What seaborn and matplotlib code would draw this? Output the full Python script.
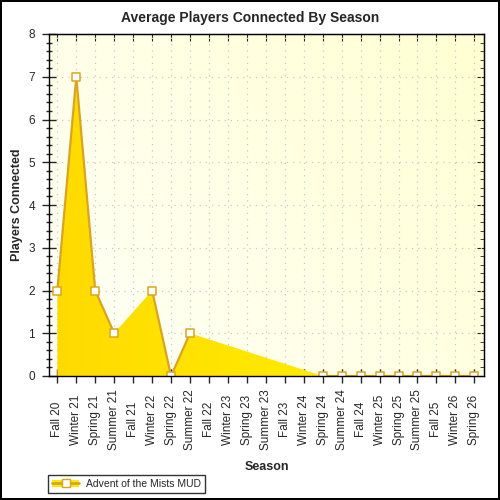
import matplotlib
matplotlib.use('Agg')
import matplotlib.pyplot as plt
from matplotlib.patches import Patch
from matplotlib.lines import Line2D
from matplotlib.colors import LinearSegmentedColormap
import numpy as np
import seaborn as sns

seasons = ['Fall 20', 'Winter 21', 'Spring 21', 'Summer 21', 'Fall 21', 'Winter 22',
           'Spring 22', 'Summer 22', 'Fall 22', 'Winter 23', 'Spring 23', 'Summer 23',
           'Fall 23', 'Winter 24', 'Spring 24', 'Summer 24', 'Fall 24', 'Winter 25',
           'Spring 25', 'Summer 25', 'Fall 25', 'Winter 26', 'Spring 26']
# nan = no data recorded for that season
players = [2, 7, 2, 1, np.nan, 2, 0, 1, np.nan, np.nan, np.nan, np.nan, np.nan, np.nan,
           0, 0, 0, 0, 0, 0, 0, 0, 0]
series_name = 'Advent of the Mists MUD'

sns.set_style('ticks')
plt.rcParams['font.family'] = ['Liberation Sans', 'DejaVu Sans']

line_col = '#D9A521'
fill_col = '#FFE800'

fig = plt.figure(figsize=(5, 5), dpi=100)
fig.patch.set_edgecolor('black')
fig.patch.set_linewidth(1.5)
ax = fig.add_axes([0.098, 0.248, 0.87, 0.684])

x = np.arange(len(seasons))
y = np.array(players, dtype=float)
known = ~np.isnan(y)
xlim = (-0.44, len(seasons) - 0.49)

# background gradient
bg = LinearSegmentedColormap.from_list('bg', ['#FFFFF8', '#FFFFD2'])
gx, gy = np.meshgrid(np.linspace(0, 1, 100), np.linspace(0, 1, 100))
ax.imshow(gx * 0.6 + gy * 0.4, cmap=bg, extent=(*xlim, 0, 8),
          origin='lower', aspect='auto', zorder=0)

# area spans gaps (gradient fill clipped to it), outline only between recorded seasons
poly = ax.fill_between(x[known], y[known], 0, facecolor='none', lw=0, zorder=2)
fg = LinearSegmentedColormap.from_list('fg', ['#FFDA00', '#FFF400'])
img = ax.imshow(gx, cmap=fg, extent=(*xlim, 0, 8), origin='lower', aspect='auto', zorder=2)
img.set_clip_path(poly.get_paths()[0], transform=ax.transData)
ax.plot(x, y, color=line_col, lw=1.6, zorder=3)
sns.scatterplot(x=x[known], y=y[known], ax=ax, marker='s', s=26, color='white',
                edgecolor=line_col, linewidth=1.1, zorder=4)

ax.set_xlim(*xlim)
ax.set_ylim(0, 8)
ax.set_xticks(x)
ax.set_xticklabels(seasons, rotation=90, fontsize=8.5, va='center')
ax.set_yticks(range(9))
ax.set_yticks(np.arange(0, 8.01, 0.2), minor=True)
ax.tick_params(axis='y', labelsize=8.5, length=10, width=1, direction='inout', pad=5)
ax.tick_params(axis='y', which='minor', length=5, width=1, direction='inout')
ax.tick_params(axis='x', length=10, width=1, direction='inout', pad=26.5)
ax.grid(True, which='major', linestyle=(0, (1, 4)), color='#C8C8C8', lw=0.9)
ax.set_axisbelow(True)
for s in ax.spines.values():
    s.set_visible(True)
    s.set_linewidth(1)
    s.set_color('black')
    s.set_zorder(10)

sec = ax.secondary_yaxis('right')
sec.set_yticks(range(9))
sec.set_yticks(np.arange(0, 8.01, 0.2), minor=True)
sec.tick_params(direction='in', labelright=False, length=5)
sec.tick_params(which='minor', direction='in', length=3)
top = ax.secondary_xaxis('top')
top.set_xticks(x)
top.tick_params(direction='in', labeltop=False, length=5)

ax.set_xlabel('Season', fontsize=9, fontweight='bold')
ax.xaxis.set_label_coords(0.5, -0.248)
ax.set_ylabel('Players Connected', fontsize=9, fontweight='bold')
ax.yaxis.set_label_coords(-0.059, 0.5)
fig.text(0.5, 0.964, 'Average Players Connected By Season', fontsize=10,
         fontweight='bold', ha='center', va='center')

handle = (Patch(facecolor=fill_col, edgecolor='none'),
          Line2D([], [], color=line_col, lw=2, marker='s', markersize=6,
                 markerfacecolor='white', markeredgecolor=line_col))
fig.legend([handle], [series_name], loc='lower left', bbox_to_anchor=(0.096, 0.014),
           fontsize=7.5, frameon=True, fancybox=False, edgecolor='black',
           borderpad=0.4, handlelength=2.6, handletextpad=0.6, borderaxespad=0)

fig.savefig('out.png', dpi=100)
